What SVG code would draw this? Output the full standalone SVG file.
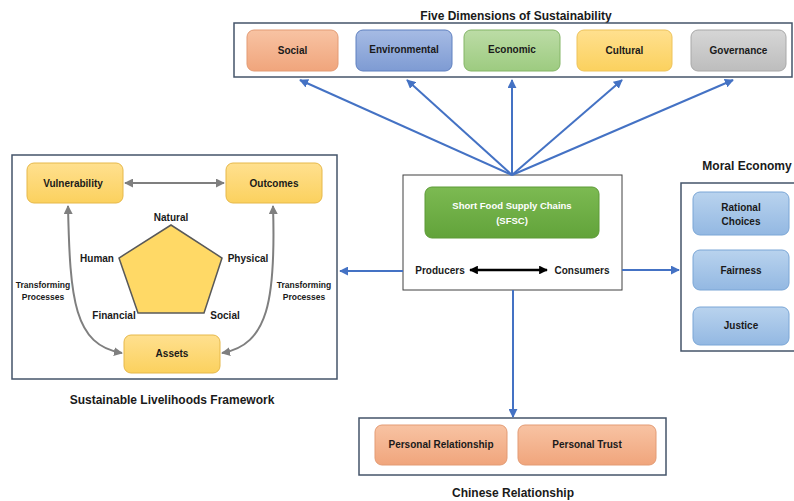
<svg xmlns="http://www.w3.org/2000/svg" width="794" height="501" viewBox="0 0 794 501">
  <defs>
    <linearGradient id="gOrange" x1="0" y1="0" x2="0" y2="1">
      <stop offset="0" stop-color="#f8c3a3"/><stop offset="1" stop-color="#f0a57c"/>
    </linearGradient>
    <linearGradient id="gBlue" x1="0" y1="0" x2="0" y2="1">
      <stop offset="0" stop-color="#a6bbe4"/><stop offset="1" stop-color="#7e9bd3"/>
    </linearGradient>
    <linearGradient id="gGreen" x1="0" y1="0" x2="0" y2="1">
      <stop offset="0" stop-color="#bcdca6"/><stop offset="1" stop-color="#9dcb80"/>
    </linearGradient>
    <linearGradient id="gYellow" x1="0" y1="0" x2="0" y2="1">
      <stop offset="0" stop-color="#ffe08f"/><stop offset="1" stop-color="#fbd15e"/>
    </linearGradient>
    <linearGradient id="gGray" x1="0" y1="0" x2="0" y2="1">
      <stop offset="0" stop-color="#d6d6d6"/><stop offset="1" stop-color="#bdbdbd"/>
    </linearGradient>
    <linearGradient id="gSky" x1="0" y1="0" x2="0" y2="1">
      <stop offset="0" stop-color="#b9d3ee"/><stop offset="1" stop-color="#93b8e2"/>
    </linearGradient>
    <linearGradient id="gSfsc" x1="0" y1="0" x2="0" y2="1">
      <stop offset="0" stop-color="#7cba52"/><stop offset="1" stop-color="#62a33a"/>
    </linearGradient>
    <marker id="arrBlue" viewBox="0 0 10 10" refX="9" refY="5" markerWidth="4.5" markerHeight="4.5" orient="auto-start-reverse">
      <path d="M0,0 L10,5 L0,10 Z" fill="#4472c4"/>
    </marker>
    <marker id="arrGray" viewBox="0 0 10 10" refX="9" refY="5" markerWidth="4.5" markerHeight="4.5" orient="auto-start-reverse">
      <path d="M0,0 L10,5 L0,10 Z" fill="#7f7f7f"/>
    </marker>
    <marker id="arrBlack" viewBox="0 0 10 10" refX="9" refY="5" markerWidth="3.5" markerHeight="3.5" orient="auto-start-reverse">
      <path d="M0,0 L10,5 L0,10 Z" fill="#000"/>
    </marker>
  </defs>
  <style>
    text { font-family: "Liberation Sans", Arial, sans-serif; font-weight: bold; fill: #1a1a1a; }
    .lbl { font-size: 10px; text-anchor: middle; }
    .title { font-size: 12px; text-anchor: middle; }
    .small { font-size: 8.5px; text-anchor: middle; }
    .frame { fill: #ffffff; stroke: #44546a; stroke-width: 1.5; }
    .box { stroke-width: 1; }
    .blue { stroke: #4472c4; stroke-width: 2; fill: none; }
    .gray { stroke: #7f7f7f; stroke-width: 2; fill: none; }
  </style>
  <rect width="794" height="501" fill="#ffffff"/>

  <!-- Five dimensions of sustainability -->
  <g id="five-dimensions">
    <text class="title" x="516" y="20">Five Dimensions of Sustainability</text>
    <rect class="frame" x="234" y="23" width="558" height="54"/>
    <g id="dim-social">
      <rect class="box" x="247" y="30" width="91" height="41" rx="7" fill="url(#gOrange)" stroke="#e39b74"/>
      <text class="lbl" x="292.5" y="54">Social</text>
    </g>
    <g id="dim-environmental">
      <rect class="box" x="356" y="30" width="96" height="41" rx="7" fill="url(#gBlue)" stroke="#5f80c0"/>
      <text class="lbl" x="404" y="53">Environmental</text>
    </g>
    <g id="dim-economic">
      <rect class="box" x="464" y="30" width="96" height="41" rx="7" fill="url(#gGreen)" stroke="#84b567"/>
      <text class="lbl" x="512" y="53">Economic</text>
    </g>
    <g id="dim-cultural">
      <rect class="box" x="577" y="30" width="95" height="41" rx="7" fill="url(#gYellow)" stroke="#eec35a"/>
      <text class="lbl" x="624.5" y="54">Cultural</text>
    </g>
    <g id="dim-governance">
      <rect class="box" x="691" y="30" width="95" height="41" rx="7" fill="url(#gGray)" stroke="#a8a8a8"/>
      <text class="lbl" x="738.5" y="54">Governance</text>
    </g>
  </g>

  <!-- Sustainable livelihoods framework -->
  <g id="livelihoods">
    <rect class="frame" x="12" y="155" width="325" height="224"/>
    <g id="slf-vulnerability">
      <rect class="box" x="27" y="163" width="96" height="40" rx="7" fill="url(#gYellow)" stroke="#e6b84a"/>
      <text class="lbl" x="73" y="187">Vulnerability</text>
    </g>
    <g id="slf-outcomes">
      <rect class="box" x="226" y="163" width="96" height="40" rx="7" fill="url(#gYellow)" stroke="#e6b84a"/>
      <text class="lbl" x="274" y="187">Outcomes</text>
    </g>
    <g id="slf-assets">
      <rect class="box" x="124" y="335" width="96" height="38" rx="7" fill="url(#gYellow)" stroke="#e6b84a"/>
      <text class="lbl" x="172" y="357">Assets</text>
    </g>
    <g id="slf-capitals">
      <polygon points="171,225 222,258 204,313 138,313 119,258" fill="#ffd966" stroke="#595959" stroke-width="1.5"/>
      <text class="lbl" x="171" y="221">Natural</text>
      <text class="lbl" x="97" y="262">Human</text>
      <text class="lbl" x="248" y="262">Physical</text>
      <text class="lbl" x="114" y="319">Financial</text>
      <text class="lbl" x="225" y="319">Social</text>
    </g>
    <text class="small" x="43" y="288">Transforming</text>
    <text class="small" x="43" y="300">Processes</text>
    <text class="small" x="304" y="288">Transforming</text>
    <text class="small" x="304" y="300">Processes</text>
    <text class="title" x="172" y="404">Sustainable Livelihoods Framework</text>
  </g>

  <!-- Central SFSC box -->
  <g id="sfsc">
    <rect x="403" y="175" width="219" height="115" fill="#ffffff" stroke="#404040" stroke-width="1"/>
    <rect x="425" y="187" width="174" height="51" rx="7" fill="url(#gSfsc)" stroke="#5c9a36" stroke-width="1"/>
    <text class="lbl" x="512" y="209" style="fill:#ffffff;font-size:9.5px">Short Food Supply Chains</text>
    <text class="lbl" x="512" y="224" style="fill:#ffffff;font-size:9.5px">(SFSC)</text>
    <text class="lbl" x="440" y="274">Producers</text>
    <text class="lbl" x="582" y="274">Consumers</text>
    <line x1="470" y1="270" x2="547" y2="270" stroke="#000" stroke-width="2.5" marker-start="url(#arrBlack)" marker-end="url(#arrBlack)"/>
  </g>

  <!-- Moral economy -->
  <g id="moral-economy">
    <text class="title" x="747" y="170">Moral Economy</text>
    <rect class="frame" x="681" y="183" width="120" height="168"/>
    <g id="me-rational">
      <rect class="box" x="693" y="192" width="96" height="43" rx="7" fill="url(#gSky)" stroke="#7aa6d6"/>
      <text class="lbl" x="741" y="211">Rational</text>
      <text class="lbl" x="741" y="225">Choices</text>
    </g>
    <g id="me-fairness">
      <rect class="box" x="693" y="250" width="96" height="40" rx="7" fill="url(#gSky)" stroke="#7aa6d6"/>
      <text class="lbl" x="741" y="274">Fairness</text>
    </g>
    <g id="me-justice">
      <rect class="box" x="693" y="307" width="96" height="38" rx="7" fill="url(#gSky)" stroke="#7aa6d6"/>
      <text class="lbl" x="741" y="329">Justice</text>
    </g>
  </g>

  <!-- Chinese relationship -->
  <g id="chinese-relationship">
    <rect class="frame" x="359" y="418" width="307" height="57"/>
    <g id="cr-relationship">
      <rect class="box" x="375" y="425" width="132" height="40" rx="7" fill="url(#gOrange)" stroke="#e39b74"/>
      <text class="lbl" x="441" y="448">Personal Relationship</text>
    </g>
    <g id="cr-trust">
      <rect class="box" x="518" y="425" width="138" height="40" rx="7" fill="url(#gOrange)" stroke="#e39b74"/>
      <text class="lbl" x="587" y="448">Personal Trust</text>
    </g>
    <text class="title" x="513" y="497">Chinese Relationship</text>
  </g>

  <!-- Connectors -->
  <g id="connectors">
    <line class="blue" x1="512" y1="175" x2="300" y2="80" marker-end="url(#arrBlue)"/>
    <line class="blue" x1="512" y1="175" x2="407" y2="80" marker-end="url(#arrBlue)"/>
    <line class="blue" x1="512" y1="175" x2="512" y2="80" marker-end="url(#arrBlue)"/>
    <line class="blue" x1="512" y1="175" x2="622" y2="80" marker-end="url(#arrBlue)"/>
    <line class="blue" x1="512" y1="175" x2="733" y2="80" marker-end="url(#arrBlue)"/>
    <line class="blue" x1="403" y1="271" x2="340" y2="271" marker-end="url(#arrBlue)"/>
    <line class="blue" x1="622" y1="270" x2="679" y2="270" marker-end="url(#arrBlue)"/>
    <line class="blue" x1="513" y1="290" x2="513" y2="417" marker-end="url(#arrBlue)"/>
    <line class="gray" x1="125" y1="183" x2="224" y2="183" marker-start="url(#arrGray)" marker-end="url(#arrGray)"/>
    <path class="gray" d="M68,206 C70,300 74,345 122,353" marker-start="url(#arrGray)" marker-end="url(#arrGray)"/>
    <path class="gray" d="M273,206 C276,300 268,345 222,353" marker-start="url(#arrGray)" marker-end="url(#arrGray)"/>
  </g>
</svg>
